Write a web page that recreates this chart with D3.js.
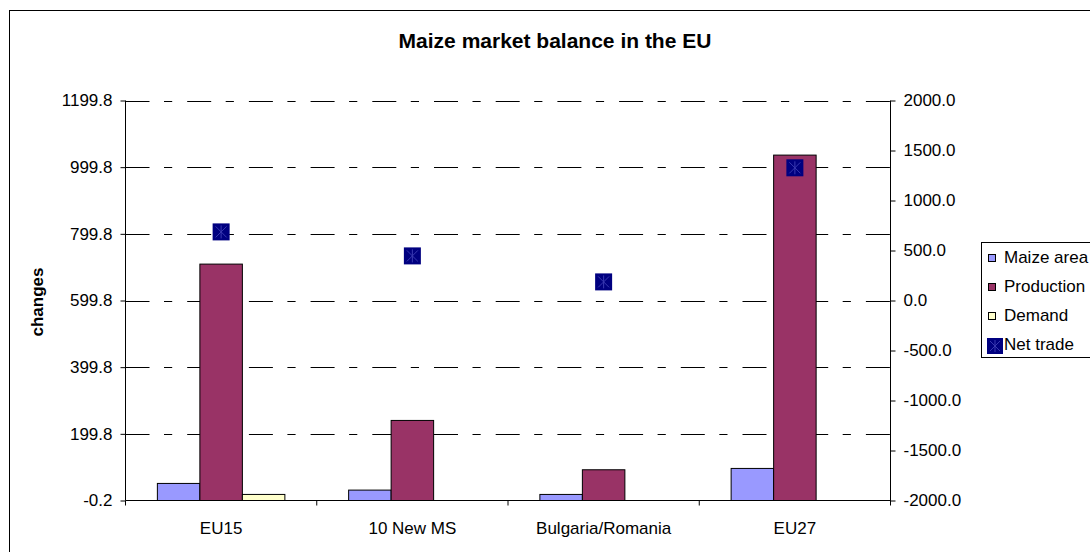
<!DOCTYPE html>
<html><head><meta charset="utf-8">
<script src="https://cdn.jsdelivr.net/npm/d3@7"></script>
<style>
body{margin:0;background:#fff;}
svg{display:block;font-family:"Liberation Sans",Arial,sans-serif;}
</style></head>
<body>
<svg id="chart" width="1090" height="552"></svg>
<script>
const categories = ["EU15", "10 New MS", "Bulgaria/Romania", "EU27"];
const maizeArea = [51, 31, 18, 96];
const production = [709, 240, 92, 1036];
const demand = [18, 0, 0, 0];
const netTrade = [686, 446, 186, 1327];
const leftTicks = [-0.2, 199.8, 399.8, 599.8, 799.8, 999.8, 1199.8];
const rightTicks = [-2000, -1500, -1000, -500, 0, 500, 1000, 1500, 2000];
const seriesNames = ["Maize area", "Production", "Demand", "Net trade"];
const colors = ["#9999FF", "#993366", "#FFFFCC", "#000080"];

const svg = d3.select("#chart");
const L = 125.5, R = 890.5, T = 100.5, B = 500.5;

// outer border
svg.append("rect").attr("x", 9.5).attr("y", 10.5).attr("width", 1200).attr("height", 700)
  .attr("fill", "#fff").attr("stroke", "#000").attr("stroke-width", 1);

const x = d3.scaleBand().domain(categories).range([L, R]).padding(0);
const barSeries = [maizeArea, production, demand];
const inner = d3.scaleBand().domain([0,1,2]).range([0, x.bandwidth()]).paddingInner(0).paddingOuter(0.75/ (1)).align(0.5);
// bar width = band/(3+1.5)
const bw = x.bandwidth() / 4.5;
inner.range([x.bandwidth()/2 - 1.5*bw, x.bandwidth()/2 + 1.5*bw]).paddingOuter(0);

const y = d3.scaleLinear().domain([-0.2, 1199.8]).range([B, T]);
const y2 = d3.scaleLinear().domain([-2000, 2000]).range([B, T]);

// gridlines
svg.append("g").selectAll("line").data(leftTicks.slice(1)).join("line")
  .attr("x1", L).attr("x2", R)
  .attr("y1", d => Math.round(y(d)) + 0.5).attr("y2", d => Math.round(y(d)) + 0.5)
  .attr("stroke", "#000").attr("stroke-width", 1)
  .attr("stroke-dasharray", "24,14.5,8.2,15");

// bars
barSeries.forEach((vals, si) => {
  svg.append("g").selectAll("rect").data(vals).join("rect")
    .attr("x", (d, i) => x(categories[i]) + inner(si))
    .attr("y", d => y(Math.max(d, -0.2)))
    .attr("width", inner.bandwidth())
    .attr("height", d => Math.max(0, y(-0.2) - y(d)))
    .attr("fill", colors[si]).attr("stroke", "#000").attr("stroke-width", 1)
    .attr("display", d => d > 0 ? null : "none");
});

// axes
const fmt = d => d.toFixed(1);
const gl = svg.append("g").attr("transform", `translate(${L},0)`)
  .call(d3.axisLeft(y).tickValues(leftTicks).tickFormat(fmt).tickSize(5).tickPadding(8));
const gr = svg.append("g").attr("transform", `translate(${R},0)`)
  .call(d3.axisRight(y2).tickValues(rightTicks).tickFormat(fmt).tickSize(5).tickPadding(8));
const gx = svg.append("g").attr("transform", `translate(0,${B})`)
  .call(d3.axisBottom(x).tickSize(0).tickPadding(21));
// category boundary ticks
svg.append("g").selectAll("line").data(d3.range(categories.length + 1)).join("line")
  .attr("x1", i => L + i * x.bandwidth()).attr("x2", i => L + i * x.bandwidth())
  .attr("y1", B).attr("y2", B + 5).attr("stroke", "#000");

[gl, gr, gx].forEach(g => {
  g.selectAll("path.domain").attr("stroke", "#000");
  g.selectAll(".tick line").attr("stroke", "#000");
  g.selectAll("text").attr("font-size", 17).attr("fill", "#000")
    .attr("font-family", "'Liberation Sans', Arial, sans-serif");
});
gl.select("path.domain").attr("d", `M0,${T}V${B}`);
gr.select("path.domain").attr("d", `M0,${T}V${B+3}`);
gx.select("path.domain").attr("d", `M${L},0H${R}`);

// net trade markers
function marker(g, cx, cy, s) {
  const h = s / 2;
  g.append("rect").attr("x", cx - h).attr("y", cy - h).attr("width", s).attr("height", s)
    .attr("fill", "#000080");
  const st = "#3838b0";
  g.append("line").attr("x1", cx).attr("x2", cx).attr("y1", cy - h + 2).attr("y2", cy + h - 2).attr("stroke", st);
  g.append("line").attr("x1", cx - h + 3).attr("x2", cx + h - 3).attr("y1", cy - h + 3).attr("y2", cy + h - 3).attr("stroke", st);
  g.append("line").attr("x1", cx - h + 3).attr("x2", cx + h - 3).attr("y1", cy + h - 3).attr("y2", cy - h + 3).attr("stroke", st);
}
const mg = svg.append("g");
netTrade.forEach((v, i) => marker(mg, x(categories[i]) + x.bandwidth() / 2, y2(v), 17));

// title
svg.append("text").attr("x", 555).attr("y", 47.5).attr("text-anchor", "middle")
  .attr("font-size", 21).attr("font-weight", "bold").text("Maize market balance in the EU");
svg.append("text").attr("transform", "translate(43,302) rotate(-90)").attr("text-anchor", "middle")
  .attr("font-size", 17).attr("font-weight", "bold").text("changes");

// legend
const lg = svg.append("g");
lg.append("rect").attr("x", 981.5).attr("y", 242.5).attr("width", 200).attr("height", 115)
  .attr("fill", "#fff").attr("stroke", "#000");
const rowsY = [263, 292, 321, 350];
seriesNames.forEach((n, i) => {
  if (i < 3) {
    lg.append("rect").attr("x", 988.5).attr("y", rowsY[i] - 8.5).attr("width", 7).attr("height", 7)
      .attr("fill", colors[i]).attr("stroke", "#000");
  } else {
    marker(lg, 995, rowsY[i] - 4, 16);
  }
  lg.append("text").attr("x", 1004).attr("y", rowsY[i]).attr("font-size", 17).text(n);
});
</script>
</body></html>
